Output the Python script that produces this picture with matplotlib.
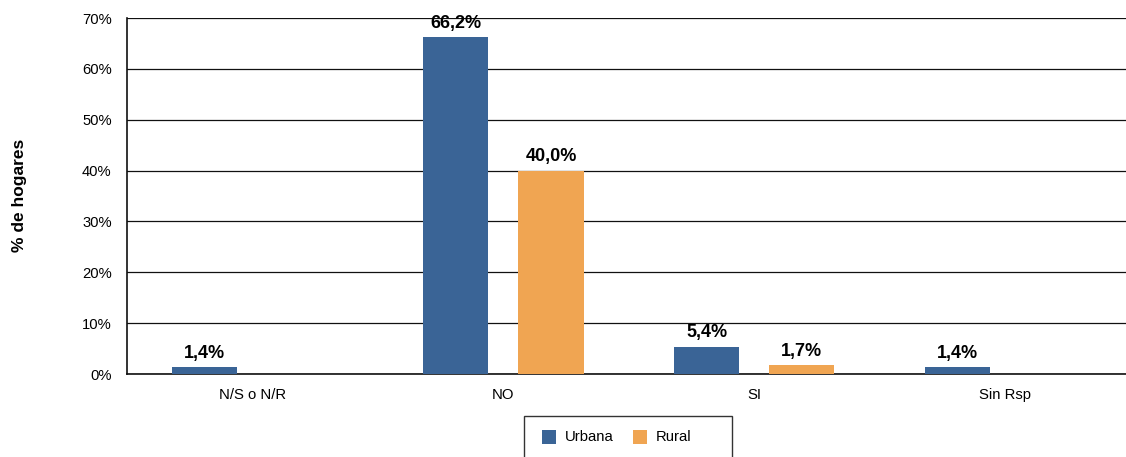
import matplotlib
matplotlib.use("Agg")
import matplotlib.pyplot as plt
from matplotlib.patches import Rectangle
import numpy as np

plt.rcParams['font.family'] = ['Liberation Sans', 'DejaVu Sans']

categories = ["N/S o N/R", "NO", "SI", "Sin Rsp"]
urbana = [1.4, 66.2, 5.4, 1.4]
rural = [None, 40.0, 1.7, None]
series_names = ["Urbana", "Rural"]
colors = ["#3A6496", "#F0A552"]
yticks = [0, 10, 20, 30, 40, 50, 60, 70]

W, H = 1126, 457
fig = plt.figure(figsize=(W / 100, H / 100), dpi=100)
ax = fig.add_axes([127 / W, 1 - 374 / H, (1130.5 - 127) / W, (374 - 18) / H])

x = np.arange(len(categories))
width = 0.26
offset = 0.19

def fmt(v):
    return f"{v:.1f}".replace(".", ",") + "%"

for vals, sign, color in [(urbana, -1, colors[0]), (rural, 1, colors[1])]:
    for xi, v in zip(x, vals):
        if v is None:
            continue
        ax.bar(xi + sign * offset, v, width=width, color=color, zorder=3)
        ax.text(xi + sign * offset, v + 1.0, fmt(v), ha="center", va="bottom",
                fontsize=13, fontweight="bold", zorder=4)

ax.set_xlim(-0.5, len(categories) - 0.5)
ax.set_ylim(0, 70)
ax.set_yticks(yticks)
ax.set_yticklabels([f"{t}%" for t in yticks], fontsize=10.6)
ax.set_xticks(x)
ax.set_xticklabels(categories, fontsize=10.7)
ax.tick_params(axis="x", length=0, pad=10)
ax.tick_params(axis="y", length=0, pad=11)
ax.yaxis.grid(True, color="#111111", linewidth=0.9, zorder=0)
for s in ["top", "right"]:
    ax.spines[s].set_visible(False)
for s in ["left", "bottom"]:
    ax.spines[s].set_color("#111111")
    ax.spines[s].set_linewidth(1.2)

fig.text(20 / W, 1 - 195.5 / H, "% de hogares", rotation=90, ha="center",
         va="center", fontsize=12.5, fontweight="bold")

# Legend box below the plot, built in figure pixel coordinates
def px(xp, yp):
    return xp / W, 1 - yp / H

lx0, ly0, lx1, ly1 = 524, 416, 732, 470
fig.patches.append(Rectangle(px(lx0, ly1), (lx1 - lx0) / W, (ly1 - ly0) / H,
                             transform=fig.transFigure, facecolor="white",
                             edgecolor="#333333", linewidth=1.0))
marker_x = [542, 633]
for mx, name, color in zip(marker_x, series_names, colors):
    fig.patches.append(Rectangle(px(mx, 444), 14 / W, 14 / H,
                                 transform=fig.transFigure, facecolor=color,
                                 edgecolor="none"))
    fig.text(*px(mx + 23, 437), name, ha="left", va="center", fontsize=10.7)

fig.savefig("out.png", dpi=100, facecolor="white")
